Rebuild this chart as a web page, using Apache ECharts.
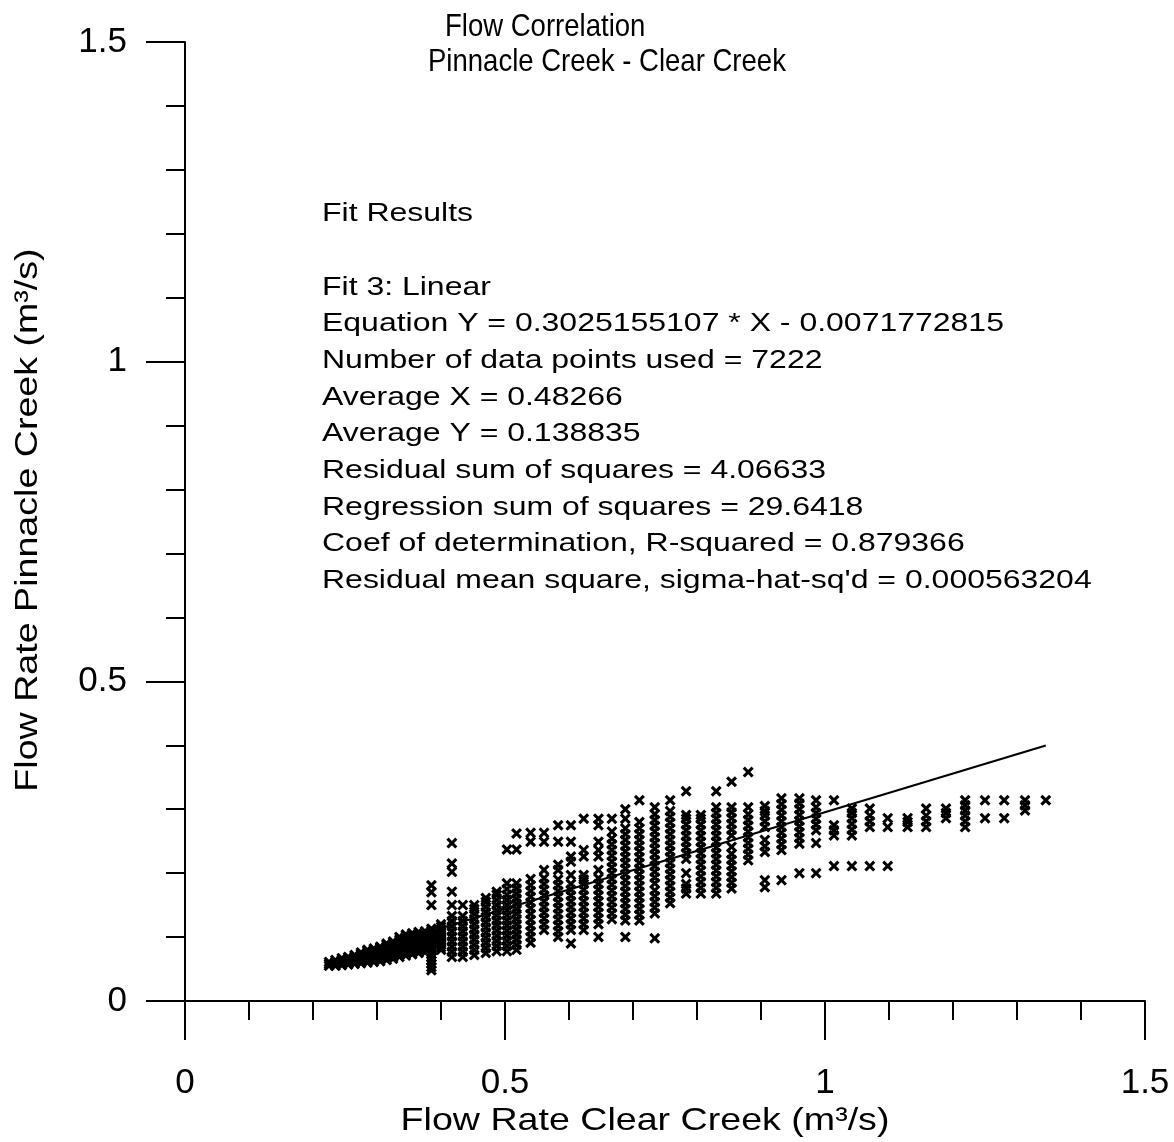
<!DOCTYPE html>
<html>
<head>
<meta charset="utf-8">
<script src="https://cdn.jsdelivr.net/npm/echarts@6/dist/echarts.min.js"></script>
<style>
  html, body { margin: 0; padding: 0; background: #ffffff; }
  #chart { width: 1174px; height: 1142px; }
</style>
</head>
<body>
<div id="chart"></div>
<script>
// Clear Creek flow (m3/s): one entry per discharge step of the gauge record
const columnX = [
  0.225, 0.235, 0.245, 0.255, 0.265, 0.275, 0.285, 0.295, 0.305, 0.315,
  0.325, 0.335, 0.345, 0.355, 0.365, 0.375, 0.385, 0.400, 0.417, 0.434,
  0.452, 0.470, 0.487, 0.503, 0.518, 0.540, 0.561, 0.583, 0.603, 0.623,
  0.646, 0.667, 0.688, 0.710, 0.734, 0.758, 0.783, 0.806, 0.830, 0.854,
  0.880, 0.906, 0.932, 0.960, 0.986, 1.014, 1.042, 1.070, 1.098, 1.129,
  1.158, 1.189, 1.219, 1.250, 1.280, 1.3125, 1.345
];

// Pinnacle Creek flows (m3/s) observed at each Clear Creek step above
const columnY = [
  [0.055, 0.058, 0.061],
  [0.055, 0.058, 0.061, 0.064],
  [0.056, 0.059, 0.062, 0.065, 0.067],
  [0.057, 0.060, 0.063, 0.066, 0.069],
  [0.058, 0.061, 0.064, 0.067, 0.070, 0.072],
  [0.059, 0.062, 0.065, 0.068, 0.071, 0.074, 0.076],
  [0.060, 0.063, 0.066, 0.069, 0.072, 0.075, 0.078, 0.080],
  [0.061, 0.064, 0.067, 0.070, 0.073, 0.076, 0.079, 0.082],
  [0.062, 0.065, 0.068, 0.071, 0.074, 0.077, 0.080, 0.083, 0.085],
  [0.064, 0.067, 0.070, 0.073, 0.076, 0.079, 0.082, 0.085, 0.088, 0.090],
  [0.066, 0.069, 0.072, 0.075, 0.078, 0.081, 0.084, 0.087, 0.090, 0.093],
  [0.069, 0.072, 0.075, 0.078, 0.081, 0.084, 0.087, 0.090, 0.093, 0.096, 0.100],
  [0.071, 0.074, 0.077, 0.080, 0.083, 0.086, 0.089, 0.092, 0.095, 0.098, 0.101, 0.104],
  [0.073, 0.076, 0.079, 0.082, 0.085, 0.088, 0.091, 0.094, 0.097, 0.100, 0.103, 0.106],
  [0.075, 0.078, 0.081, 0.084, 0.087, 0.090, 0.093, 0.096, 0.099, 0.102, 0.105, 0.108],
  [0.076, 0.079, 0.082, 0.085, 0.088, 0.091, 0.094, 0.097, 0.100, 0.103, 0.106, 0.109],
  [0.048, 0.053, 0.058, 0.063, 0.068, 0.073, 0.078, 0.082, 0.086, 0.090, 0.094, 0.098, 0.102, 0.106, 0.110, 0.113, 0.150, 0.170, 0.181],
  [0.080, 0.084, 0.088, 0.092, 0.096, 0.100, 0.104, 0.108, 0.112, 0.116, 0.120],
  [0.069, 0.077, 0.085, 0.093, 0.101, 0.109, 0.117, 0.125, 0.133, 0.150, 0.171, 0.202, 0.215, 0.247],
  [0.069, 0.077, 0.085, 0.093, 0.101, 0.109, 0.117, 0.125, 0.133, 0.150],
  [0.072, 0.080, 0.088, 0.096, 0.104, 0.112, 0.120, 0.128, 0.136, 0.144, 0.150],
  [0.075, 0.083, 0.091, 0.099, 0.107, 0.115, 0.123, 0.131, 0.139, 0.147, 0.155, 0.161],
  [0.078, 0.086, 0.094, 0.102, 0.110, 0.118, 0.126, 0.134, 0.142, 0.150, 0.158, 0.166, 0.171],
  [0.078, 0.086, 0.094, 0.102, 0.110, 0.118, 0.126, 0.134, 0.142, 0.150, 0.158, 0.166, 0.175, 0.184, 0.237],
  [0.080, 0.088, 0.096, 0.104, 0.112, 0.120, 0.128, 0.136, 0.144, 0.152, 0.160, 0.168, 0.176, 0.184, 0.237, 0.262],
  [0.091, 0.100, 0.109, 0.118, 0.127, 0.136, 0.145, 0.154, 0.163, 0.172, 0.181, 0.191, 0.249, 0.263],
  [0.111, 0.120, 0.129, 0.138, 0.147, 0.156, 0.165, 0.174, 0.183, 0.192, 0.205, 0.249, 0.263],
  [0.100, 0.109, 0.118, 0.127, 0.136, 0.145, 0.154, 0.163, 0.172, 0.181, 0.190, 0.205, 0.213, 0.249, 0.275],
  [0.090, 0.111, 0.120, 0.129, 0.138, 0.147, 0.156, 0.165, 0.174, 0.183, 0.197, 0.218, 0.226, 0.249, 0.275],
  [0.111, 0.120, 0.129, 0.138, 0.147, 0.156, 0.165, 0.174, 0.183, 0.190, 0.197, 0.226, 0.236, 0.285],
  [0.100, 0.120, 0.129, 0.138, 0.147, 0.156, 0.165, 0.174, 0.183, 0.192, 0.205, 0.226, 0.236, 0.249, 0.275, 0.285],
  [0.128, 0.137, 0.146, 0.155, 0.164, 0.173, 0.182, 0.191, 0.200, 0.209, 0.218, 0.227, 0.236, 0.245, 0.254, 0.265, 0.285],
  [0.100, 0.126, 0.135, 0.144, 0.153, 0.162, 0.171, 0.180, 0.189, 0.198, 0.207, 0.216, 0.225, 0.234, 0.243, 0.252, 0.261, 0.270, 0.285, 0.300],
  [0.126, 0.135, 0.144, 0.153, 0.162, 0.171, 0.180, 0.189, 0.198, 0.207, 0.216, 0.225, 0.234, 0.243, 0.252, 0.261, 0.270, 0.280, 0.314],
  [0.098, 0.137, 0.146, 0.155, 0.164, 0.173, 0.184, 0.193, 0.202, 0.211, 0.220, 0.229, 0.238, 0.247, 0.256, 0.265, 0.274, 0.283, 0.292, 0.303],
  [0.153, 0.162, 0.171, 0.180, 0.189, 0.198, 0.207, 0.216, 0.225, 0.234, 0.243, 0.252, 0.261, 0.270, 0.279, 0.288, 0.297, 0.314],
  [0.168, 0.176, 0.183, 0.200, 0.222, 0.231, 0.240, 0.249, 0.258, 0.267, 0.276, 0.285, 0.291, 0.328],
  [0.168, 0.177, 0.186, 0.195, 0.204, 0.213, 0.222, 0.231, 0.240, 0.249, 0.258, 0.267, 0.276, 0.285, 0.291],
  [0.168, 0.177, 0.186, 0.195, 0.204, 0.213, 0.222, 0.231, 0.240, 0.249, 0.258, 0.267, 0.276, 0.285, 0.294, 0.303, 0.328],
  [0.176, 0.185, 0.194, 0.203, 0.212, 0.221, 0.230, 0.241, 0.259, 0.268, 0.277, 0.286, 0.295, 0.303, 0.343],
  [0.220, 0.229, 0.238, 0.247, 0.256, 0.265, 0.274, 0.283, 0.292, 0.303, 0.358],
  [0.178, 0.189, 0.233, 0.242, 0.252, 0.272, 0.281, 0.290, 0.297, 0.305],
  [0.189, 0.236, 0.245, 0.254, 0.263, 0.272, 0.281, 0.290, 0.299, 0.308, 0.317],
  [0.200, 0.246, 0.255, 0.264, 0.273, 0.282, 0.291, 0.300, 0.309, 0.317],
  [0.200, 0.247, 0.267, 0.276, 0.285, 0.294, 0.303, 0.314],
  [0.211, 0.259, 0.267, 0.275, 0.314],
  [0.211, 0.259, 0.268, 0.277, 0.286, 0.294, 0.301],
  [0.211, 0.272, 0.281, 0.290, 0.301],
  [0.211, 0.272, 0.286],
  [0.272, 0.280, 0.286],
  [0.272, 0.281, 0.290, 0.301],
  [0.286, 0.294, 0.301],
  [0.272, 0.281, 0.290, 0.298, 0.306, 0.314],
  [0.286, 0.314],
  [0.286, 0.314],
  [0.298, 0.306, 0.314],
  [0.314]
];

// Linear fit (Fit 3) coefficients
const fitSlope = 0.3025155107;
const fitIntercept = -0.0071772815;

const titleLines = ['Flow Correlation', 'Pinnacle Creek - Clear Creek'];
const fitLines = [
  'Fit Results',
  '',
  'Fit 3: Linear',
  'Equation Y = 0.3025155107 * X - 0.0071772815',
  'Number of data points used = 7222',
  'Average X = 0.48266',
  'Average Y = 0.138835',
  'Residual sum of squares = 4.06633',
  'Regression sum of squares = 29.6418',
  'Coef of determination, R-squared = 0.879366',
  "Residual mean square, sigma-hat-sq'd = 0.000563204"
];
const xAxisTitle = 'Flow Rate Clear Creek (m\u00B3/s)';
const yAxisTitle = 'Flow Rate Pinnacle Creek (m\u00B3/s)';
const axisTicks = [0, 0.5, 1, 1.5];

// build [x, y] pairs
const points = [];
columnX.forEach((x, i) => {
  columnY[i].forEach(y => points.push([x, y]));
});
const xMin = Math.min(...columnX);
const xMax = Math.max(...columnX);
const fitData = [
  [xMin, fitSlope * xMin + fitIntercept],
  [xMax, fitSlope * xMax + fitIntercept]
];

const FONT = '"Liberation Sans", Arial, sans-serif';
// bold "x" marker as a filled outline
const crossPath = 'path://M0,2L2,0L5,3L8,0L10,2L7,5L10,8L8,10L5,7L2,10L0,8L3,5Z';

const axisCommon = {
  type: 'value',
  min: axisTicks[0],
  max: axisTicks[axisTicks.length - 1],
  interval: 0.5,
  splitLine: { show: false },
  axisLine: { show: true, onZero: false, lineStyle: { color: '#000', width: 2 } },
  axisTick: { show: true, inside: false, length: 39, lineStyle: { color: '#000', width: 2 } },
  minorTick: { show: true, splitNumber: 5, length: 19, lineStyle: { color: '#000', width: 2 } },
  minorSplitLine: { show: false }
};

const graphics = [];
graphics.push({
  type: 'text', x: 445, y: 27, scaleX: 0.86,
  style: { text: titleLines[0], fontSize: 32, fontFamily: FONT, fill: '#000', align: 'left', verticalAlign: 'middle' }
});
graphics.push({
  type: 'text', x: 428, y: 62, scaleX: 0.86,
  style: { text: titleLines[1], fontSize: 32, fontFamily: FONT, fill: '#000', align: 'left', verticalAlign: 'middle' }
});
fitLines.forEach((t, i) => {
  if (!t) return;
  graphics.push({
    type: 'text', x: 322, y: 214 + i * 36.7, scaleX: 1.23,
    style: { text: t, fontSize: 26, fontFamily: FONT, fill: '#000', align: 'left', verticalAlign: 'middle' }
  });
});
graphics.push({
  type: 'text', x: 645, y: 1121, scaleX: 1.175,
  style: { text: xAxisTitle, fontSize: 32, fontFamily: FONT, fill: '#000', align: 'center', verticalAlign: 'middle' }
});
graphics.push({
  type: 'text', x: 28, y: 520, rotation: Math.PI / 2, scaleX: 1.175,
  style: { text: yAxisTitle, fontSize: 32, fontFamily: FONT, fill: '#000', align: 'center', verticalAlign: 'middle' }
});

const chart = echarts.init(document.getElementById('chart'), null, { renderer: 'canvas' });
chart.setOption({
  backgroundColor: '#ffffff',
  animation: false,
  grid: { left: 185, right: 29, top: 42, bottom: 141, containLabel: false, outerBoundsMode: 'none' },
  xAxis: Object.assign({}, axisCommon, {
    axisLabel: { show: true, margin: 65, fontSize: 35, fontFamily: FONT, color: '#000' }
  }),
  yAxis: Object.assign({}, axisCommon, {
    axisLabel: { show: true, margin: 58, fontSize: 35, fontFamily: FONT, color: '#000' }
  }),
  series: [
    {
      type: 'scatter',
      data: points,
      symbol: crossPath,
      symbolSize: 11,
      itemStyle: { color: '#000', opacity: 1 },
      silent: true,
      z: 2
    },
    {
      type: 'line',
      data: fitData,
      showSymbol: false,
      symbol: 'none',
      lineStyle: { color: '#000', width: 2 },
      silent: true,
      z: 3
    }
  ],
  graphic: graphics
});
</script>
</body>
</html>
